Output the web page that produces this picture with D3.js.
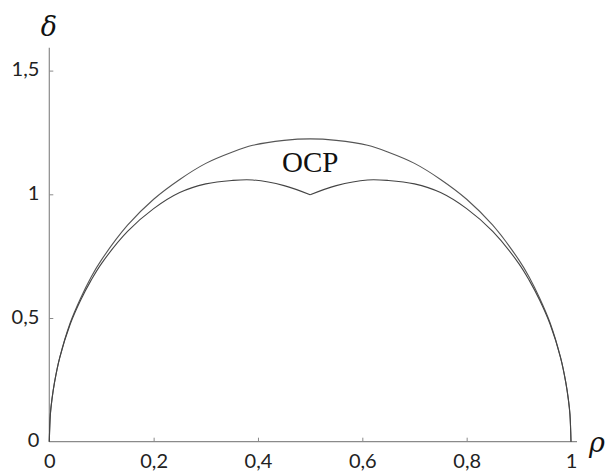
<!DOCTYPE html>
<html>
<head>
<meta charset="utf-8">
<script src="https://cdn.jsdelivr.net/npm/d3@7"></script>
<style>
  html, body { margin: 0; padding: 0; background: #fff; }
  svg { display: block; }
</style>
</head>
<body>
<svg id="chart" width="612" height="475"></svg>
<script>
// Boundary curves δ(ρ): the outer bound and the OCP-limited inner bound
const rho = [0, 0.002, 0.005, 0.01, 0.02, 0.04, 0.06, 0.08, 0.1, 0.15, 0.2, 0.25, 0.3, 0.35, 0.39, 0.45, 0.5,
             0.55, 0.61, 0.65, 0.7, 0.75, 0.8, 0.85, 0.9, 0.92, 0.94, 0.96, 0.98, 0.99, 0.995, 0.998, 1];
const outerDelta = [0, 0.11, 0.17, 0.24, 0.34, 0.48, 0.58, 0.665, 0.735, 0.875, 0.98, 1.06, 1.125, 1.17, 1.198, 1.218, 1.224,
                    1.218, 1.198, 1.17, 1.125, 1.06, 0.98, 0.875, 0.735, 0.665, 0.58, 0.48, 0.34, 0.24, 0.17, 0.11, 0];
const innerDelta = [0, 0.11, 0.17, 0.24, 0.34, 0.475, 0.572, 0.652, 0.72, 0.85, 0.942, 1.007, 1.042, 1.056, 1.058, 1.035, 0.998,
                    1.035, 1.058, 1.056, 1.042, 1.007, 0.942, 0.85, 0.72, 0.652, 0.572, 0.475, 0.34, 0.24, 0.17, 0.11, 0];

const xTicks = [0, 0.2, 0.4, 0.6, 0.8, 1];
const xTickLabels = ["0", "0,2", "0,4", "0,6", "0,8", "1"];
const yTicks = [0, 0.5, 1, 1.5];
const yTickLabels = ["0", "0,5", "1", "1,5"];

const svg = d3.select("#chart");

const x = d3.scaleLinear().domain([0, 1]).range([49.3, 571]);
const y = d3.scaleLinear().domain([0, 1.5]).range([441.7, 70.6]);

const axisColor = "#8a8a8a";
const tickFont = "Lato, 'Open Sans', sans-serif";

// x axis
const xAxis = d3.axisBottom(x)
  .tickValues(xTicks)
  .tickSizeInner(-4).tickSizeOuter(0)
  .tickFormat((d, i) => xTickLabels[i]);
const gx = svg.append("g").attr("transform", `translate(0,${y(0)})`).call(xAxis);
gx.select(".domain").attr("d", `M${x(0)},0H${x(1.0115)}`).attr("stroke", axisColor).attr("stroke-width", 1.2);
gx.selectAll(".tick line").attr("stroke", axisColor);
gx.selectAll(".tick").filter(d => d === 0 || d === 1).select("line").remove();
gx.selectAll(".tick text")
  .attr("y", 12).attr("dy", "0.71em")
  .attr("fill", "#222").attr("font-family", tickFont).attr("font-size", 20);

// y axis
const yAxis = d3.axisLeft(y)
  .tickValues(yTicks)
  .tickSizeInner(-4).tickSizeOuter(0)
  .tickFormat((d, i) => yTickLabels[i]);
const gy = svg.append("g").attr("transform", `translate(${x(0)},0)`).call(yAxis);
gy.select(".domain").attr("d", `M0,${y(0)}V${y(1.592)}`).attr("stroke", axisColor).attr("stroke-width", 1.2);
gy.selectAll(".tick line").attr("stroke", axisColor);
gy.selectAll(".tick").filter(d => d === 0).select("line").remove();
gy.selectAll(".tick text")
  .attr("x", -10).attr("dy", "0.25em")
  .attr("fill", "#222").attr("font-family", tickFont).attr("font-size", 20);

// curves
const line = d3.line()
  .x(d => x(d[0]))
  .y(d => y(d[1]))
  .curve(d3.curveCatmullRom.alpha(0.5));

svg.append("path")
  .datum(rho.map((r, i) => [r, outerDelta[i]]))
  .attr("d", line)
  .attr("fill", "none").attr("stroke", "#555").attr("stroke-width", 1.1);

// inner curve drawn as two halves so the cusp at ρ = 0,5 stays sharp
const mid = rho.indexOf(0.5);
const innerPts = rho.map((r, i) => [r, innerDelta[i]]);
[innerPts.slice(0, mid + 1), innerPts.slice(mid)].forEach(part => {
  svg.append("path")
    .datum(part)
    .attr("d", line)
    .attr("fill", "none").attr("stroke", "#444").attr("stroke-width", 1.1);
});

// region label
svg.append("text")
  .attr("x", x(0.5)).attr("y", 172)
  .attr("text-anchor", "middle")
  .attr("font-family", "'Liberation Serif', 'DejaVu Serif', serif")
  .attr("font-size", 29).attr("fill", "#111")
  .text("OCP");

// axis names
svg.append("text")
  .attr("x", 49).attr("y", 36)
  .attr("text-anchor", "middle")
  .attr("font-family", "'DejaVu Serif', serif").attr("font-style", "italic")
  .attr("font-size", 27).attr("fill", "#111")
  .text("δ");
svg.append("text")
  .attr("x", 597).attr("y", 452)
  .attr("text-anchor", "middle")
  .attr("font-family", "'DejaVu Serif', serif").attr("font-style", "italic")
  .attr("font-size", 27).attr("fill", "#111")
  .text("ρ");
</script>
</body>
</html>
